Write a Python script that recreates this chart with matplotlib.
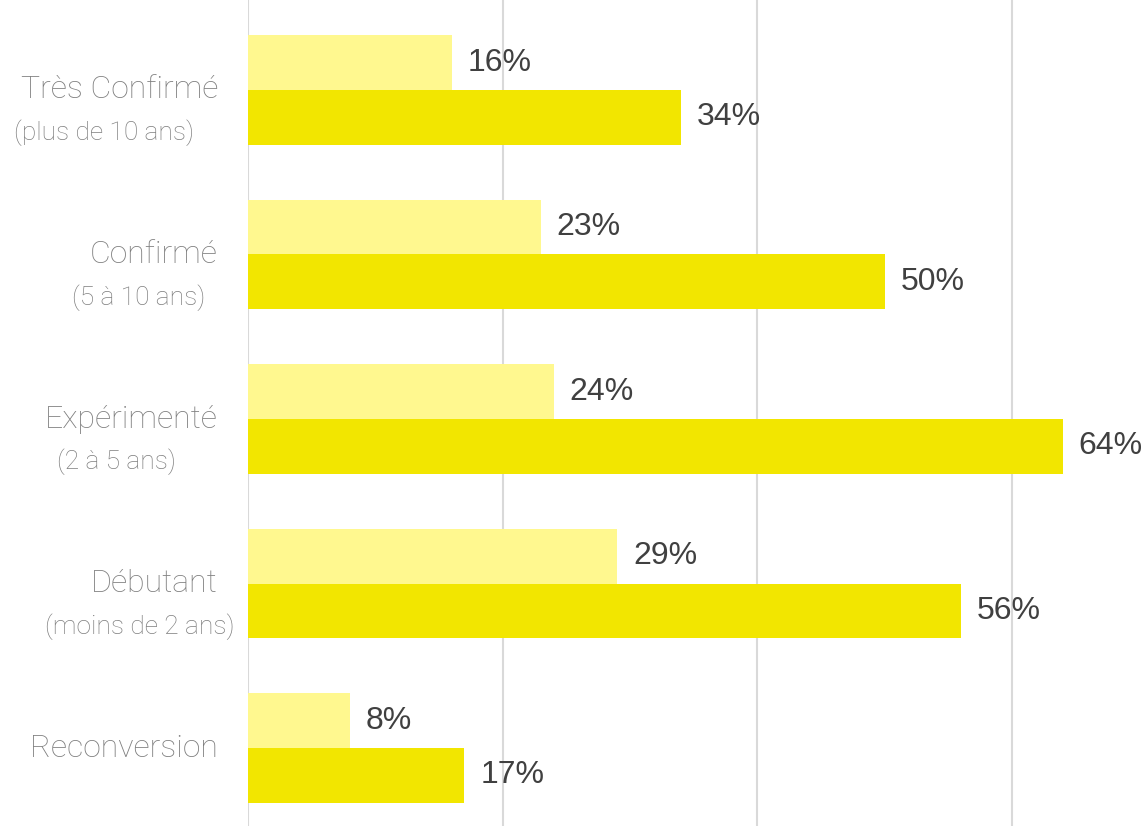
import matplotlib
matplotlib.use("Agg")
import matplotlib.pyplot as plt
import numpy as np

categories = ["Très Confirmé", "Confirmé", "Expérimenté", "Débutant", "Reconversion"]
subtitles = ["(plus de 10 ans)", "(5 à 10 ans)", "(2 à 5 ans)", "(moins de 2 ans)", ""]
light_values = [16, 23, 24, 29, 8]
dark_values = [34, 50, 64, 56, 17]
x_ticks = [0, 20, 40, 60]

LIGHT = "#FFF88F"
DARK = "#F2E600"
GRID = "#D9D9D9"

W, H = 1146, 826
fig = plt.figure(figsize=(W / 100, H / 100), dpi=100)
ax_left = 248 / W
ax = fig.add_axes([ax_left, 0, 1 - ax_left, 1])

n = len(categories)
ypos = np.arange(n)[::-1]  # Très Confirmé on top
h = 0.334

ax.barh(ypos + h / 2, light_values, height=h, color=LIGHT, zorder=2)
ax.barh(ypos - h / 2, dark_values, height=h, color=DARK, zorder=2)

ax.set_xlim(0, (W - 248) / 12.73)
ax.set_ylim(-0.474, 4.547)

for xt in x_ticks:
    ax.axvline(xt, color=GRID, lw=1.5, zorder=1)

for spine in ax.spines.values():
    spine.set_visible(False)
ax.set_xticks([])
ax.set_yticks([])

val_font = dict(family=["Liberation Sans", "DejaVu Sans"], fontsize=23, color="#404040")
for y, lv, dv in zip(ypos, light_values, dark_values):
    ax.annotate(f"{lv}%", (lv, y + h / 2), xytext=(16, 0), textcoords="offset pixels",
                va="center", ha="left", annotation_clip=False, **val_font)
    ax.annotate(f"{dv}%", (dv, y - h / 2), xytext=(16, 0), textcoords="offset pixels",
                va="center", ha="left", annotation_clip=False, **val_font)

fig.canvas.draw()
renderer = fig.canvas.get_renderer()
lab_font = dict(family=["Roboto", "DejaVu Sans"], fontweight="light", color="#7F7F7F")
for y, cat, sub in zip(ypos, categories, subtitles):
    # main label right-aligned at x=218 px
    ydisp = ax.transData.transform((0, y))[1]
    t = fig.text(218 / W, ydisp / H, cat, ha="right", va="center", fontsize=23, **lab_font)
    if sub:
        bb = t.get_window_extent(renderer)
        cx = (bb.x0 + bb.x1) / 2 - 15
        fig.text(cx / W, (ydisp - 43) / H, sub, ha="center", va="center", fontsize=19, **lab_font)

fig.savefig("out.png", dpi=100, facecolor="white")
